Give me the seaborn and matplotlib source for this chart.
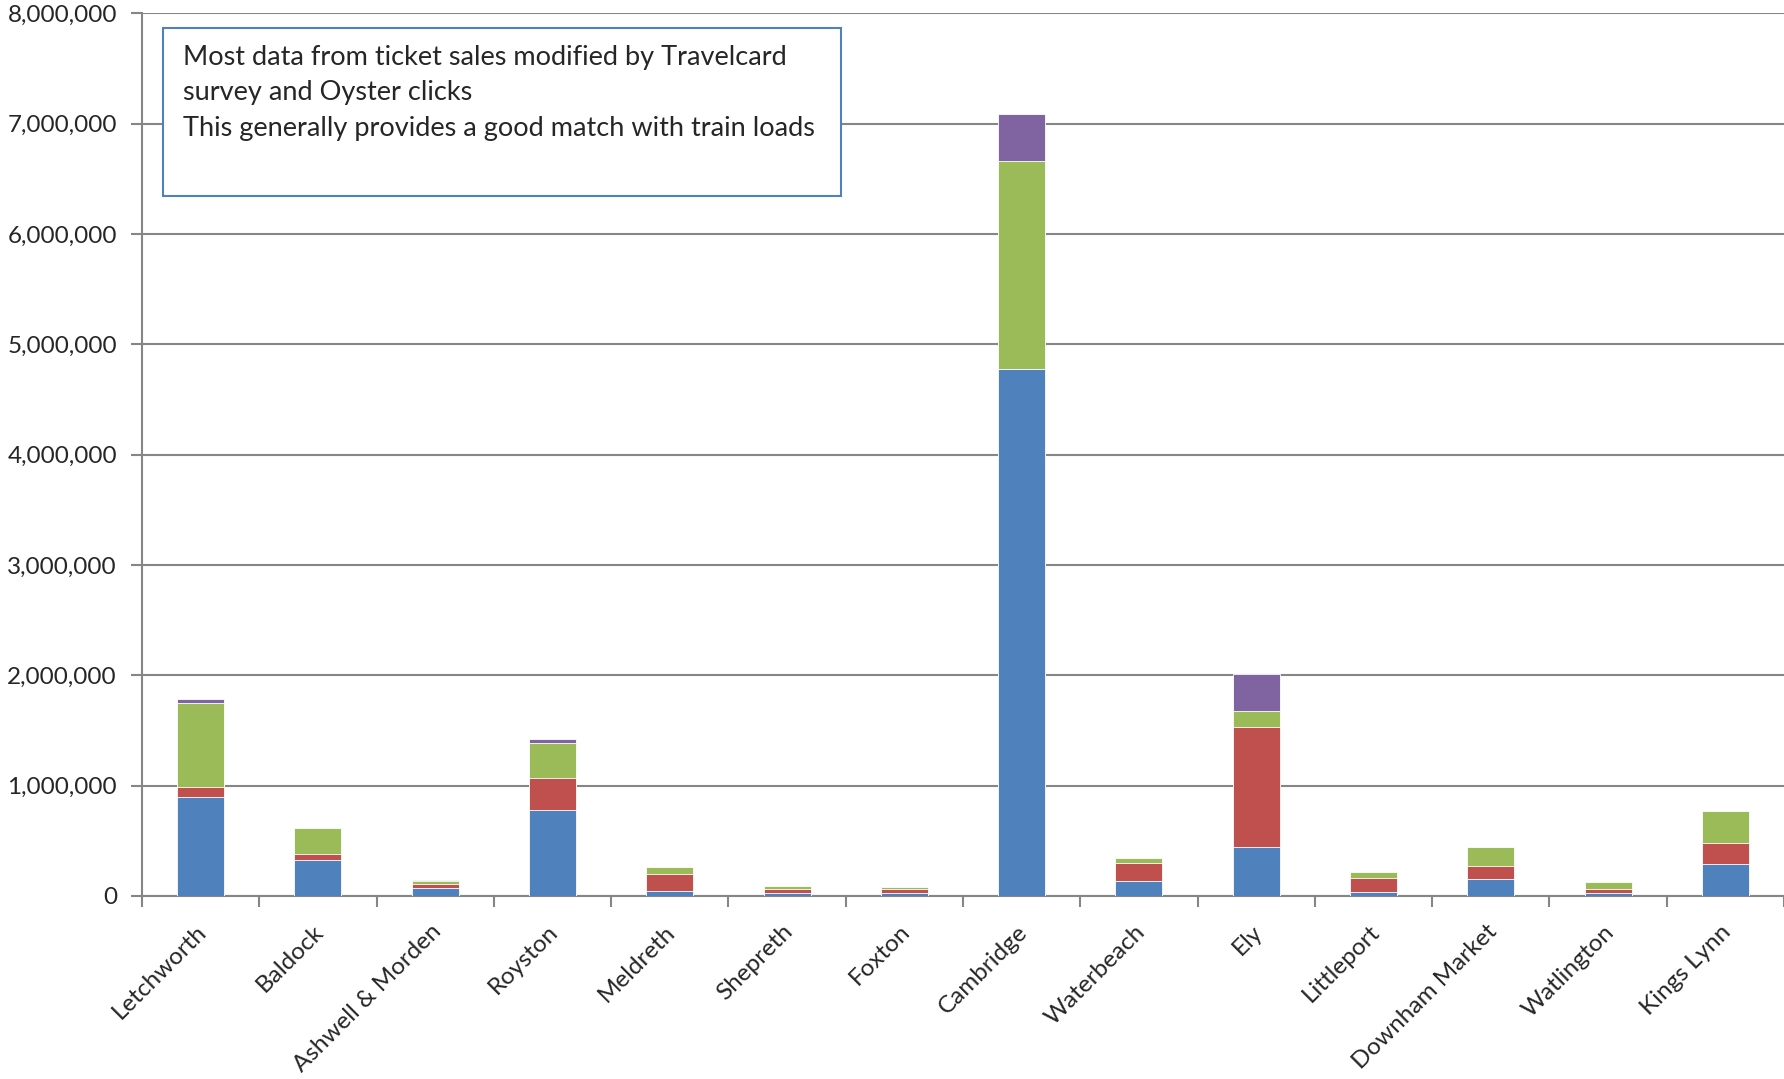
import matplotlib
matplotlib.use("Agg")
import matplotlib.pyplot as plt
import matplotlib.ticker as mticker
import matplotlib.transforms as mtransforms
from matplotlib.patches import Rectangle
import seaborn as sns
import pandas as pd
import numpy as np

stations = ["Letchworth", "Baldock", "Ashwell & Morden", "Royston", "Meldreth",
            "Shepreth", "Foxton", "Cambridge", "Waterbeach", "Ely",
            "Littleport", "Downham Market", "Watlington", "Kings Lynn"]

# four stacked series, bottom to top
blue = [900000, 325000, 75000, 780000, 45000, 25000, 25000,
        4780000, 140000, 445000, 40000, 150000, 25000, 290000]
red = [90000, 60000, 30000, 285000, 150000, 40000, 40000,
       0, 160000, 1090000, 125000, 120000, 35000, 190000]
green = [760000, 235000, 35000, 320000, 70000, 30000, 20000,
         1880000, 40000, 140000, 50000, 170000, 70000, 290000]
purple = [35000, 0, 5000, 35000, 0, 0, 0,
          430000, 0, 340000, 0, 0, 0, 0]

note = ("Most data from ticket sales modified by Travelcard\n"
        "survey and Oyster clicks\n"
        "This generally provides a good match with train loads")

series = [blue, red, green, purple]
colors = ["#4F81BD", "#C0504D", "#9BBB59", "#8064A2"]

sns.set_style("white")
plt.rcParams["font.family"] = ["Lato", "DejaVu Sans"]

df = pd.DataFrame({"station": stations})
cum = np.zeros(len(stations))
for i, s in enumerate(series):
    cum = cum + np.array(s)
    df[f"c{i}"] = cum

fig = plt.figure(figsize=(17.84, 10.79), dpi=100)
ax = fig.add_axes([142 / 1784, 1 - 896 / 1079, 1 - 142 / 1784, (896 - 13.3) / 1079])

# draw from tallest cumulative down so shorter layers cover the lower part
for i in reversed(range(len(series))):
    sns.barplot(data=df, x="station", y=f"c{i}", color=colors[i], width=0.4,
                edgecolor="white", linewidth=0.6, saturation=1, ax=ax, zorder=3)

ax.set_ylim(0, 8000000)
ax.set_xlim(-0.5, len(stations) - 0.5)
ax.yaxis.set_major_locator(mticker.MultipleLocator(1000000))
ax.yaxis.set_major_formatter(mticker.FuncFormatter(lambda v, p: f"{int(v):,}"))
ax.grid(axis="y", color="#868686", linewidth=1.5, zorder=0)
ax.set_axisbelow(True)
ax.set_xlabel("")
ax.set_ylabel("")

for side in ["top", "right"]:
    ax.spines[side].set_visible(False)
for side in ["left", "bottom"]:
    ax.spines[side].set_color("#868686")
    ax.spines[side].set_linewidth(1.5)

ax.tick_params(axis="y", which="major", length=8, width=1.5, color="#868686",
               labelsize=17.5, pad=10, left=True)
ax.set_xticks(np.arange(len(stations)))
ax.set_xticklabels(stations, rotation=45, ha="right", rotation_mode="anchor",
                   fontsize=17.5)
ax.tick_params(axis="x", which="major", length=0, pad=18)
shift = mtransforms.ScaledTranslation(-5 / 100, 0, fig.dpi_scale_trans)
for lab in ax.get_xticklabels():
    lab.set_transform(lab.get_transform() + shift)
ax.set_xticks(np.arange(len(stations) + 1) - 0.5, minor=True)
ax.tick_params(axis="x", which="minor", length=8, width=1.5, color="#868686",
               bottom=True)

fig.patches.append(Rectangle((163 / 1784, 1 - 196 / 1079), (841 - 163) / 1784,
                             (196 - 28) / 1079, transform=fig.transFigure,
                             facecolor="white", edgecolor="#4F81BD",
                             linewidth=1.5, zorder=5))
fig.text(183 / 1784, 1 - 45 / 1079, note, fontsize=19.5, va="top", ha="left",
         linespacing=1.52, zorder=6)

fig.savefig("out.png", dpi=100)
